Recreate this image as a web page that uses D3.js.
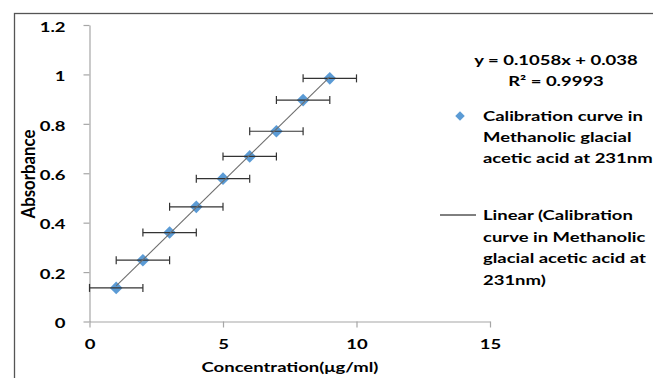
<!DOCTYPE html>
<html><head><meta charset="utf-8">
<script src="https://cdn.jsdelivr.net/npm/d3@7"></script>
<style>
html,body{margin:0;padding:0;background:#fff;}
svg{display:block;font-family:Lato,sans-serif;font-weight:700;}
</style></head>
<body>
<svg id="chart" width="653" height="378"></svg>
<script>
// Data
const concentration = [1, 2, 3, 4, 5, 6, 7, 8, 9];
const absorbance = [0.136, 0.248, 0.360, 0.464, 0.578, 0.668, 0.770, 0.896, 0.984];
const xError = [1, 1, 1, 1, 1, 1, 1, 1, 1];
const slope = 0.1058, intercept = 0.038;
const xTicks = [0, 5, 10, 15];
const yTicks = [0, 0.2, 0.4, 0.6, 0.8, 1, 1.2];
const equationLines = ["y = 0.1058x + 0.038", "R\u00B2 = 0.9993"];
const seriesLegend = ["Calibration curve in", "Methanolic glacial", "acetic acid at 231nm"];
const trendLegend = ["Linear (Calibration", "curve in Methanolic", "glacial acetic acid at", "231nm)"];
const xTitle = "Concentration(\u03BCg/ml)";
const yTitle = "Absorbance";

const svg = d3.select("#chart");
const x = d3.scaleLinear().domain([0, 15]).range([89.5, 490]);
const y = d3.scaleLinear().domain([0, 1.2]).range([321.5, 25]);
const fs = 14, k = 1.32; // horizontal stretch of the reference text

function put(sel, px, py) {
  sel.attr("x", 0).attr("y", 0)
    .attr("transform", `translate(${px},${py}) scale(${k},1)`);
  return sel;
}

// outer chart border
svg.append("rect").attr("x", 14.5).attr("y", 13.5).attr("width", 700).attr("height", 400)
  .attr("fill", "none").attr("stroke", "#555").attr("stroke-width", 1.3);

// y axis
const yAxis = svg.append("g").attr("transform", `translate(${x(0)},0)`)
  .call(d3.axisLeft(y).tickValues(yTicks).tickSize(6).tickSizeOuter(0).tickPadding(18).tickFormat(d => d3.format("~g")(d)));
// x axis
const xAxis = svg.append("g").attr("transform", `translate(0,${y(0)})`)
  .call(d3.axisBottom(x).tickValues(xTicks).tickSize(6).tickSizeOuter(0).tickPadding(10));
[yAxis, xAxis].forEach(g => {
  g.select(".domain").attr("stroke", "#a6a6a6").attr("stroke-width", 1.2);
  g.selectAll(".tick line").attr("stroke", "#a6a6a6").attr("stroke-width", 1.2);
  g.selectAll(".tick text").attr("fill", "#000").attr("font-size", fs).attr("font-family", "Lato").attr("font-weight", 700)
    .each(function () {
      const t = d3.select(this);
      const px = +t.attr("x") || 0, py = +t.attr("y") || 0;
      put(t, px, py);
    });
});
yAxis.selectAll(".tick text").attr("dy", "0.45em");
xAxis.selectAll(".tick text").attr("dy", "0.85em");

// axis titles
put(svg.append("text"), 290, 367).attr("dy", "0.35em").attr("text-anchor", "middle")
  .attr("font-size", fs).text(xTitle);
svg.append("text").attr("transform", `translate(29,174) scale(${k},1.2) rotate(-90)`)
  .attr("dy", "0.35em").attr("text-anchor", "middle")
  .attr("font-size", fs).text(yTitle);

const pts = concentration.map((c, i) => ({c, a: absorbance[i], e: xError[i]}));
const blue = "#5B9BD5";

// markers
svg.append("g").selectAll("path").data(pts).join("path")
  .attr("d", d3.symbol().type(d3.symbolSquare).size(80))
  .attr("transform", d => `translate(${x(d.c)},${y(d.a)}) rotate(45)`)
  .attr("fill", blue);

// error bars
const eb = svg.append("g").attr("stroke", "#333").attr("stroke-width", 1.2);
eb.selectAll("line.h").data(pts).join("line").attr("class", "h")
  .attr("x1", d => x(d.c - d.e)).attr("x2", d => x(d.c + d.e))
  .attr("y1", d => y(d.a)).attr("y2", d => y(d.a));
eb.selectAll("line.l").data(pts).join("line").attr("class", "l")
  .attr("x1", d => x(d.c - d.e)).attr("x2", d => x(d.c - d.e))
  .attr("y1", d => y(d.a) - 4).attr("y2", d => y(d.a) + 4);
eb.selectAll("line.r").data(pts).join("line").attr("class", "r")
  .attr("x1", d => x(d.c + d.e)).attr("x2", d => x(d.c + d.e))
  .attr("y1", d => y(d.a) - 4).attr("y2", d => y(d.a) + 4);

// trendline
const xMin = d3.min(concentration), xMax = d3.max(concentration);
svg.append("line")
  .attr("x1", x(xMin)).attr("y1", y(slope * xMin + intercept))
  .attr("x2", x(xMax)).attr("y2", y(slope * xMax + intercept))
  .attr("stroke", "#6e6e6e").attr("stroke-width", 1.1);

// equation
svg.append("g").selectAll("text").data(equationLines).join("text")
  .each(function (d, i) { put(d3.select(this), 556, 60 + i * 21); })
  .attr("dy", "0.35em").attr("text-anchor", "middle").attr("font-size", fs).text(d => d);

// legend: series
svg.append("path").attr("d", d3.symbol().type(d3.symbolSquare).size(45)())
  .attr("transform", "translate(460,116) rotate(45)").attr("fill", blue);
svg.append("g").selectAll("text").data(seriesLegend).join("text")
  .each(function (d, i) { put(d3.select(this), 483, 116 + i * 21.2); })
  .attr("dy", "0.35em").attr("font-size", fs).text(d => d);

// legend: trendline
svg.append("line").attr("x1", 440).attr("x2", 476).attr("y1", 215).attr("y2", 215)
  .attr("stroke", "#000").attr("stroke-width", 1);
svg.append("g").selectAll("text").data(trendLegend).join("text")
  .each(function (d, i) { put(d3.select(this), 483, 215 + i * 21.7); })
  .attr("dy", "0.35em").attr("font-size", fs).text(d => d);
</script>
</body></html>
